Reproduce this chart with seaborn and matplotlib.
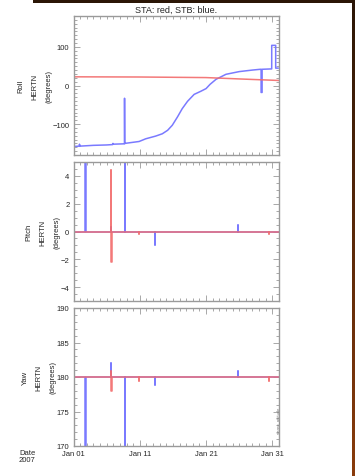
import numpy as np
import pandas as pd
import matplotlib
matplotlib.use("Agg")
import matplotlib.pyplot as plt
from matplotlib.patches import Rectangle
from matplotlib.ticker import MultipleLocator, FixedLocator
from matplotlib.colors import LinearSegmentedColormap
import seaborn as sns

# ---- data: days since 2007-01-01 00:00 ----
roll_stb_day = [0, 0.9, 0.9, 0.95, 1.0, 3.0, 5.0, 5.9, 5.95, 6.0, 7.7, 7.7, 7.72,
                9.9, 10.9, 12.4, 13.4, 14.2, 14.9, 15.7, 16.4, 17.2, 18.2, 19.2,
                20.0, 20.6, 21.5, 23.0, 25.0, 27.0, 28.2, 28.3, 28.3, 28.45, 28.45,
                29.9, 29.9, 30.5, 30.5, 30.9]
roll_stb_val = [-158, -157, -152, -157, -157, -155, -154, -153, -150, -152, -151, -33, -150,
                -145, -138, -131, -125, -116, -103, -81, -60, -41, -23, -15,
                -8, 3, 16, 29, 36, 40, 42, 42, -18, -18, 42,
                43, 104, 104, 45, 45]
roll_sta_day = [0, 10, 20, 25, 31]
roll_sta_val = [22.5, 22, 20.5, 17, 13]

pitch_stb_day = [0, 1.8, 1.8, 1.85, 1.85, 5.65, 5.65, 5.7, 5.7, 7.7, 7.7, 7.75, 7.75,
                 12.3, 12.3, 12.35, 12.35, 24.8, 24.8, 24.85, 24.85, 31]
pitch_stb_val = [0, 0, 6, 6, 0, 0, 0.3, 0.3, 0, 0, 6, 6, 0,
                 0, -1.0, -1.0, 0, 0, 0.5, 0.5, 0, 0]
pitch_sta_day = [0, 5.7, 5.7, 5.72, 5.72, 5.75, 5.75, 9.9, 9.9, 9.95, 9.95,
                 29.5, 29.5, 29.55, 29.55, 31]
pitch_sta_val = [0, 0, 4.4, 4.4, -2.2, -2.2, 0, 0, -0.2, -0.2, 0,
                 0, -0.2, -0.2, 0, 0]

yaw_stb_day = [0, 1.8, 1.8, 1.85, 1.85, 5.65, 5.65, 5.7, 5.7, 7.7, 7.7, 7.75, 7.75,
               12.3, 12.3, 12.35, 12.35, 24.8, 24.8, 24.85, 24.85, 31]
yaw_stb_val = [180, 180, 160, 160, 180, 180, 182.1, 182.1, 180, 180, 160, 160, 180,
               180, 178.9, 178.9, 180, 180, 180.9, 180.9, 180, 180]
yaw_sta_day = [0, 5.7, 5.7, 5.72, 5.72, 5.75, 5.75, 9.9, 9.9, 9.95, 9.95,
               29.5, 29.5, 29.55, 29.55, 31]
yaw_sta_val = [180, 180, 180.9, 180.9, 178.0, 178.0, 180, 180, 179.4, 179.4, 180,
               180, 179.4, 179.4, 180, 180]

date_ticks = [0, 10, 20, 30]
date_labels = ["Jan 01", "Jan 11", "Jan 21", "Jan 31"]

panels = [
    ("Roll\nHERTN\n(degrees)", (-180, 180), [-100, 0, 100], 10,
     (roll_sta_day, roll_sta_val), (roll_stb_day, roll_stb_val)),
    ("Pitch\nHERTN\n(degrees)", (-5, 5), [-4, -2, 0, 2, 4], 0.5,
     (pitch_sta_day, pitch_sta_val), (pitch_stb_day, pitch_stb_val)),
    ("Yaw\nHERTN\n(degrees)", (170, 190), [170, 175, 180, 185, 190], 1,
     (yaw_sta_day, yaw_sta_val), (yaw_stb_day, yaw_stb_val)),
]

sns.set_style("white")
plt.rcParams["font.family"] = ["Liberation Sans", "DejaVu Sans"]

STA_COLOR = "#f26a6a"
STB_COLOR = "#7a7aff"
FRAME = "#9a9a9a"

W, H = 355, 477
fig = plt.figure(figsize=(W / 100, H / 100), dpi=100)
fig.patch.set_facecolor("white")

boxes = [(17, 156), (163, 302), (309, 447)]
left, right = 73.5, 279

for i, (label, ylim, yticks, yminor, sta, stb) in enumerate(panels):
    top, bot = boxes[i]
    ax = fig.add_axes([left / W, 1 - bot / H, (right - left) / W, (bot - top) / H])
    sns.lineplot(x=stb[0], y=stb[1], ax=ax, sort=False, estimator=None,
                 color=STB_COLOR, lw=1.1)
    sns.lineplot(x=sta[0], y=sta[1], ax=ax, sort=False, estimator=None,
                 color=STA_COLOR, lw=1.1, alpha=0.9)
    ax.set_xlim(0, 31)
    ax.set_ylim(*ylim)
    ax.yaxis.set_major_locator(FixedLocator(yticks))
    ax.yaxis.set_minor_locator(MultipleLocator(yminor))
    ax.xaxis.set_major_locator(FixedLocator(date_ticks))
    ax.xaxis.set_minor_locator(MultipleLocator(1))
    ax.tick_params(which="both", direction="in", top=True, right=True,
                   bottom=True, left=True, color=FRAME, width=0.6)
    ax.tick_params(which="major", length=4, labelsize=5.5, pad=3)
    ax.tick_params(which="minor", length=2)
    for s in ax.spines.values():
        s.set_color(FRAME)
        s.set_linewidth(1.0)
    ax.set_ylabel(label, fontsize=5.5, linespacing=2.4, labelpad=0)
    if i < 2:
        ax.set_xticklabels([])
    else:
        ax.set_xticklabels(date_labels, fontsize=5.5)
    ax.set_xlabel("")
    if i == 0:
        ax.set_title("STA: red, STB: blue.", fontsize=6.5, pad=3)

fig.text(19 / W, 1 - 457 / H, "Date\n2007", fontsize=5.5, ha="left", va="center",
         linespacing=0.9)
fig.text(278 / W, 1 - 420 / H, "stereo_attitude", fontsize=3, rotation=90,
         ha="center", va="center", color="#777777")

# dark border strips along the top and right edges
fig.patches.append(Rectangle((33 / W, 1 - 4 / H), 1, 4 / H, transform=fig.transFigure,
                             facecolor="#2b1606", edgecolor="none", zorder=10))
edge = fig.add_axes([352 / W, 0, 3 / W, 1])
grad = np.linspace(0, 1, 256).reshape(-1, 1)
cmap = LinearSegmentedColormap.from_list("edge", ["#2b1606", "#8a3c0c"])
edge.imshow(grad, aspect="auto", cmap=cmap, extent=[0, 1, 0, 1], origin="upper")
edge.set_axis_off()

fig.savefig("out.png", dpi=100)
